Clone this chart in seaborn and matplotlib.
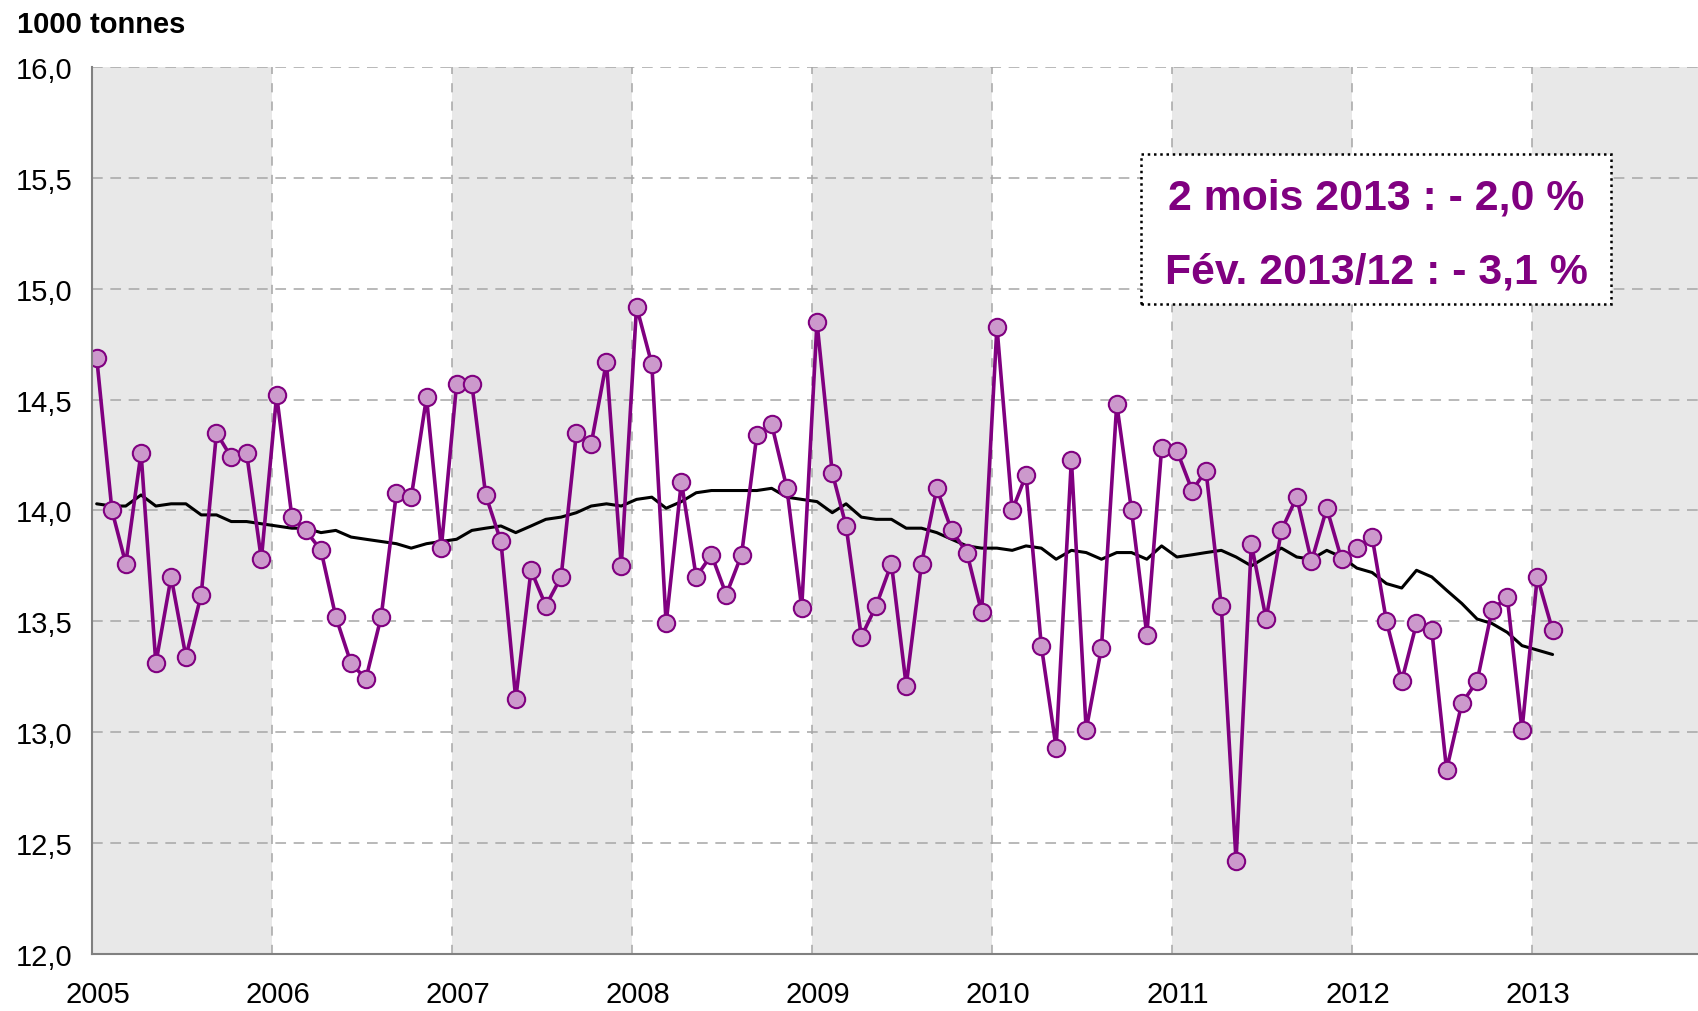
"""
plot.py — livraisons mensuelles (1000 tonnes), série brute et moyenne mobile 12 mois
"""
import numpy as np
import pandas as pd
import matplotlib
matplotlib.use('Agg')
import matplotlib.pyplot as plt
import matplotlib.ticker as mticker
import matplotlib.transforms as mtransforms
import seaborn as sns

# données mensuelles, janv. 2005 -> févr. 2013
monthly = [
    14.69, 14.00, 13.76, 14.26, 13.31, 13.70, 13.34, 13.62, 14.35, 14.24, 14.26, 13.78,  # 2005
    14.52, 13.97, 13.91, 13.82, 13.52, 13.31, 13.24, 13.52, 14.08, 14.06, 14.51, 13.83,  # 2006
    14.57, 14.57, 14.07, 13.86, 13.15, 13.73, 13.57, 13.70, 14.35, 14.30, 14.67, 13.75,  # 2007
    14.92, 14.66, 13.49, 14.13, 13.70, 13.80, 13.62, 13.80, 14.34, 14.39, 14.10, 13.56,  # 2008
    14.85, 14.17, 13.93, 13.43, 13.57, 13.76, 13.21, 13.76, 14.10, 13.91, 13.81, 13.54,  # 2009
    14.83, 14.00, 14.16, 13.39, 12.93, 14.23, 13.01, 13.38, 14.48, 14.00, 13.44, 14.28,  # 2010
    14.27, 14.09, 14.18, 13.57, 12.42, 13.85, 13.51, 13.91, 14.06, 13.77, 14.01, 13.78,  # 2011
    13.83, 13.88, 13.50, 13.23, 13.49, 13.46, 12.83, 13.13, 13.23, 13.55, 13.61, 13.01,  # 2012
    13.70, 13.46,                                                                        # 2013
]
moving_avg = [
    14.03, 14.02, 14.02, 14.07, 14.02, 14.03, 14.03, 13.98, 13.98, 13.95, 13.95, 13.94,
    13.93, 13.92, 13.92, 13.90, 13.91, 13.88, 13.87, 13.86, 13.85, 13.83, 13.85, 13.86,
    13.87, 13.91, 13.92, 13.93, 13.90, 13.93, 13.96, 13.97, 13.99, 14.02, 14.03, 14.02,
    14.05, 14.06, 14.01, 14.04, 14.08, 14.09, 14.09, 14.09, 14.09, 14.10, 14.06, 14.05,
    14.04, 13.99, 14.03, 13.97, 13.96, 13.96, 13.92, 13.92, 13.90, 13.87, 13.84, 13.83,
    13.83, 13.82, 13.84, 13.83, 13.78, 13.82, 13.81, 13.78, 13.81, 13.81, 13.78, 13.84,
    13.79, 13.80, 13.81, 13.82, 13.79, 13.75, 13.79, 13.83, 13.79, 13.78, 13.82, 13.79,
    13.74, 13.72, 13.67, 13.65, 13.73, 13.70, 13.64, 13.58, 13.51, 13.49, 13.45, 13.39,
    13.37, 13.35,
]
years = list(range(2005, 2014))
shaded_years = [2005, 2007, 2009, 2011, 2013]
y_ticks = [12.0, 12.5, 13.0, 13.5, 14.0, 14.5, 15.0, 15.5, 16.0]
box_lines = ["2 mois 2013 : - 2,0 %", "Fév. 2013/12 : - 3,1 %"]
unit_label = "1000 tonnes"

dates = pd.date_range('2005-01-01', periods=len(monthly), freq='MS') + pd.Timedelta(days=10)
df = pd.DataFrame({'date': dates, 'valeur': monthly, 'mm12': moving_avg})

PURPLE = '#800080'
LIGHT = '#CC99CC'
GRID = '#A6A6A6'

sns.set_style('white')
plt.rcParams['font.family'] = ['Liberation Sans', 'DejaVu Sans']
plt.rcParams['text.color'] = 'black'

fig = plt.figure(figsize=(16.99, 10.12), dpi=100)
ax = fig.add_axes([0.054, 0.0567, 0.946, 0.8758])

x_end = pd.Timestamp('2013-12-05')
for y in shaded_years:
    right = min(pd.Timestamp(f'{y + 1}-01-01'), x_end)
    ax.axvspan(pd.Timestamp(f'{y}-01-01'), right, color='#E8E8E8', lw=0, zorder=0)

for v in y_ticks[1:]:
    ax.axhline(v, color=GRID, lw=1.1, ls=(0, (7, 5)), zorder=1)
for y in years[1:]:
    ax.axvline(pd.Timestamp(f'{y}-01-01'), color=GRID, lw=1.1, ls=(0, (6, 6)), zorder=1)

sns.lineplot(data=df, x='date', y='mm12', ax=ax, color='black', lw=2.2, zorder=3)
sns.lineplot(data=df, x='date', y='valeur', ax=ax, color=PURPLE, lw=2.6, zorder=4,
             marker='o', markersize=12.5, markerfacecolor=LIGHT, markeredgecolor=PURPLE,
             markeredgewidth=1.5)

ax.set_xlim(pd.Timestamp('2005-01-01'), x_end)
ax.set_ylim(12.0, 16.0)
ax.set_xticks([pd.Timestamp(f'{y}-01-01') for y in years])
ax.set_xticklabels([str(y) for y in years])
ax.set_yticks(y_ticks)
ax.yaxis.set_major_formatter(mticker.FuncFormatter(lambda v, p: f"{v:.1f}".replace('.', ',')))
ax.set_xlabel('')
ax.set_ylabel('')

for s in ['top', 'right']:
    ax.spines[s].set_visible(False)
for s in ['left', 'bottom']:
    ax.spines[s].set_color('#808080')
    ax.spines[s].set_linewidth(1.5)
    ax.spines[s].set_zorder(5)
ax.tick_params(axis='both', direction='out', length=6, width=1.3, color='#606060',
               labelsize=21, labelcolor='black')
ax.tick_params(axis='x', pad=13)
ax.tick_params(axis='y', pad=8)
offset = mtransforms.ScaledTranslation(6 / 100, 0, fig.dpi_scale_trans)
for lab in ax.get_xticklabels():
    lab.set_transform(lab.get_transform() + offset)

fig.text(0.010, 1 - 25 / 1012, unit_label, fontsize=21, fontweight='bold',
         color='black', va='center', ha='left')

# encadré des évolutions
box = plt.Rectangle((1141 / 1699, 1 - 305 / 1012), 470 / 1699, 150 / 1012,
                    transform=fig.transFigure, fill=True, facecolor='white',
                    edgecolor='black', lw=1.8, ls=(0, (1, 1.5)), zorder=10)
fig.add_artist(box)
for txt, ypx in zip(box_lines, [198, 273]):
    fig.text(1376 / 1699, 1 - ypx / 1012, txt, fontsize=30.8, fontweight='bold',
             color=PURPLE, ha='center', va='center', zorder=11)

fig.savefig('out.png', dpi=100)
plt.close(fig)
